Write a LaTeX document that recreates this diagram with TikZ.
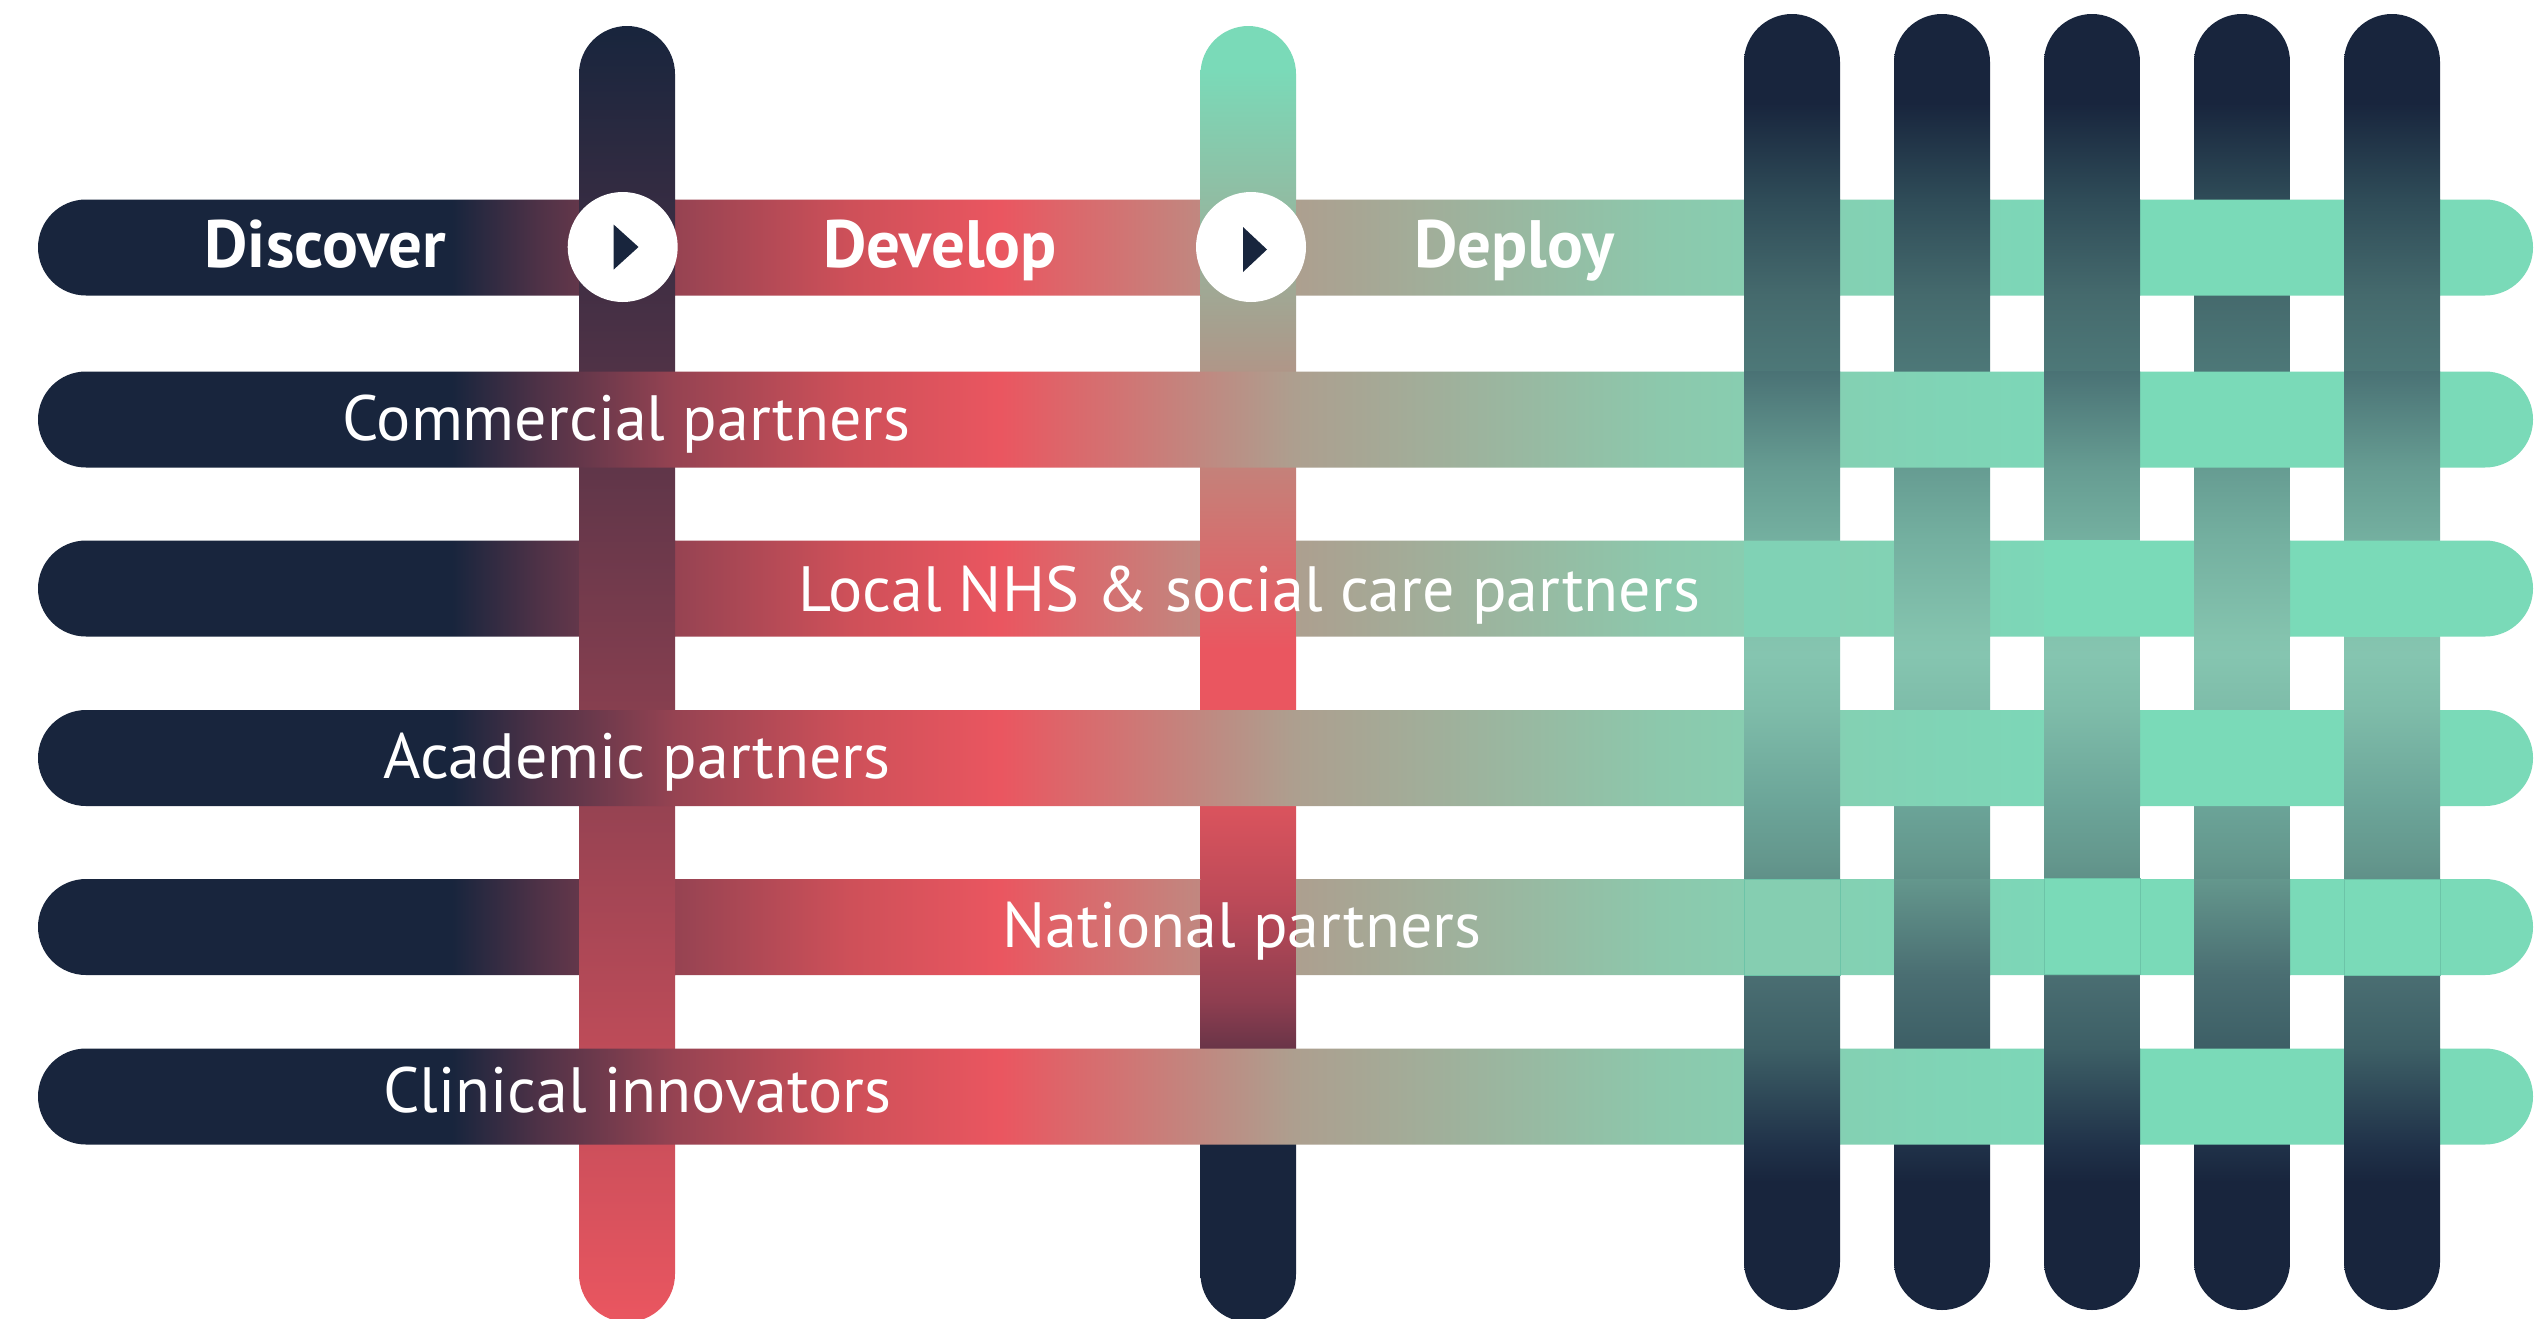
\documentclass[tikz,border=0pt]{standalone}
\usepackage{fontspec}
\setmainfont{PT Sans}
\definecolor{navy}{HTML}{18253D}
\definecolor{redc}{HTML}{EA5660}
\definecolor{greenc}{HTML}{7ADAB8}
\definecolor{midc}{HTML}{85C5B0}
\definecolor{hA}{HTML}{4F3247}
\definecolor{hB}{HTML}{964352}
\definecolor{hC}{HTML}{CE5059}
\definecolor{hE}{HTML}{AD9F8F}
\definecolor{hF}{HTML}{8CC8AC}
\definecolor{hG}{HTML}{88CDB0}
\definecolor{hH}{HTML}{7FD4B6}
\definecolor{vA}{HTML}{A79F8E}
\definecolor{vB}{HTML}{CB7A75}
\definecolor{vC}{HTML}{D9535D}
\definecolor{vD}{HTML}{BC4A58}
\definecolor{vE}{HTML}{8F3E50}
\definecolor{vF}{HTML}{703649}
\definecolor{cA}{HTML}{2F4C58}
\definecolor{cB}{HTML}{456A6D}
\definecolor{cC}{HTML}{4D7878}
\definecolor{cCtop}{HTML}{4A7275}
\definecolor{cD}{HTML}{669C92}
\definecolor{cE}{HTML}{74B0A0}
\definecolor{cF}{HTML}{84C3AE}
\definecolor{cG}{HTML}{7EBCA9}
\definecolor{cH}{HTML}{6BA498}
\definecolor{cI}{HTML}{64978D}
\definecolor{cJ}{HTML}{4A6E72}
\definecolor{cK}{HTML}{3D5F66}
\definecolor{cL}{HTML}{203249}
\definecolor{patchA}{HTML}{85CEB1}
\definecolor{patchB}{HTML}{80D2B5}
\definecolor{patchLine}{HTML}{6CC4A8}
\pgfdeclarehorizontalshading{barshade}{100bp}{color(0bp)=(navy); color(33.30bp)=(navy); color(35.06bp)=(hA); color(37.77bp)=(hB); color(41.27bp)=(hC); color(44.28bp)=(redc); color(50.19bp)=(hE); color(57.51bp)=(hF); color(59.11bp)=(hG); color(63.32bp)=(hH); color(67.32bp)=(greenc); color(100bp)=(greenc)}
\pgfdeclareverticalshading{colAshade}{100bp}{color(0bp)=(redc); color(25bp)=(redc); color(75bp)=(navy); color(100bp)=(navy)}
\pgfdeclareverticalshading{colBshade}{100bp}{color(0bp)=(navy); color(31.87bp)=(navy); color(35.88bp)=(vF); color(37.42bp)=(vE); color(41.28bp)=(vD); color(44.75bp)=(vC); color(47.84bp)=(redc); color(50.93bp)=(redc); color(56.71bp)=(vB); color(63.27bp)=(vA); color(73.30bp)=(greenc); color(100bp)=(greenc)}
\pgfdeclareverticalshading{colCshade}{100bp}{color(0bp)=(navy); color(29.94bp)=(navy); color(31.40bp)=(cL); color(35.11bp)=(cK); color(37.92bp)=(cJ); color(42.36bp)=(cI); color(44.48bp)=(cH); color(48.15bp)=(cG); color(50.27bp)=(midc); color(51.00bp)=(cF); color(54.71bp)=(cE); color(57.48bp)=(cD); color(61.19bp)=(cC); color(64.12bp)=(cB); color(67.82bp)=(cA); color(71.57bp)=(navy); color(100bp)=(navy)}
\tikzset{
  hbarstyle/.style={shading=barshade, rounded corners=48pt},
  colAstyle/.style={shading=colAshade, rounded corners=48pt},
  colBstyle/.style={shading=colBshade, rounded corners=48pt},
  colCstyle/.style={shading=colCshade, rounded corners=48pt},
  plain/.style={text=white, anchor=base, inner sep=0pt, font=\fontsize{64}{64}\selectfont},
  heading/.style={text=white, anchor=base, inner sep=0pt, font=\fontsize{67}{67}\selectfont\bfseries},
  playdisc/.style={circle, fill=white, minimum size=110pt, inner sep=0pt},
  playtip/.style={fill=navy},
  patchone/.style={fill=patchA, draw=patchLine, line width=0.6pt},
  patchtwo/.style={fill=greenc, draw=patchLine, line width=0.6pt},
  patchthree/.style={fill=patchB},
  patchfour/.style={fill=greenc},
  rowone/.style={top color=cA, bottom color=cB},
  rowtwo/.style={top color=cCtop, bottom color=cD},
  rowthree/.style={top color=cE, bottom color=cF},
  rowfour/.style={top color=cG, bottom color=cH},
  rowfive/.style={top color=cI, bottom color=cJ},
  rowsix/.style={top color=cK, bottom color=cL},
}
\newcommand{\mybar}[1]{\path[hbarstyle] (38,#1) rectangle (2533,#1+96);}
\newcommand{\mycolA}{\path[colAstyle] (579,26) rectangle (675,1322);}
\newcommand{\mycolB}{\path[colBstyle] (1200.5,26) rectangle (1296,1322);}
\newcommand{\mycolC}[1]{\path[colCstyle] (#1,14) rectangle (#1+96,1310);}
\newcommand{\overA}[1]{\begin{scope}\clip (579,#1) rectangle (675,#1+96);\mycolA\end{scope}}
\newcommand{\overB}[1]{\begin{scope}\clip (1200.5,#1) rectangle (1296,#1+96);\mycolB\end{scope}}
\newcommand{\cell}[3]{\path[#3] (#1,#2) rectangle (#1+96,#2+96);}
\begin{document}
\begin{tikzpicture}[x=1pt,y=-1pt]
\useasboundingbox (0,0) rectangle (2535,1318);
\clip (0,0) rectangle (2535,1318);
\fill[white] (0,0) rectangle (2535,1318);
% columns
\mycolA
\mycolB
\foreach \cx in {1744,1894,2044,2194,2344} {\mycolC{\cx}}
% bars
\foreach \by in {199.5,371.5,540.5,710,879,1048.5} {\mybar{\by}}
% columns passing over bars
\overA{199.5}\overB{199.5}
\overA{540.5}\overB{540.5}
\overA{879}\overB{879}
\foreach \cx in {1744,1894,2044,2344} {\cell{\cx}{199.5}{rowone}}
\foreach \cx in {1744,2044,2344} {\cell{\cx}{371.5}{rowtwo}}
\foreach \cx in {1894,2194} {\cell{\cx}{540.5}{rowthree}}
\foreach \cx in {1744,2044,2344} {\cell{\cx}{710}{rowfour}}
\foreach \cx in {1894,2194} {\cell{\cx}{879}{rowfive}}
\foreach \cx in {1744,2044,2344} {\cell{\cx}{1048.5}{rowsix}}
% flat cells where a bar passes over a column
\fill[patchthree] (1744,540.5) rectangle (1840,636.5);
\fill[patchfour] (2044,539.5) rectangle (2140,635.5);
\fill[patchfour] (2344,540.5) rectangle (2440,636.5);
\path[patchone] (1744,879.5) rectangle (1840,975);
\path[patchtwo] (2044,878.5) rectangle (2140,974);
\path[patchtwo] (2344,879.5) rectangle (2440,975);
% play buttons
\node[playdisc] (playone) at (622.7,247) {};
\node[playdisc] (playtwo) at (1251,247) {};
\fill[playtip] (613.6,224.5) -- (638.5,247) -- (613.6,269.6) -- cycle;
\fill[playtip] (1243,227) -- (1267,249.5) -- (1243,272) -- cycle;
% labels
\node[heading] (discover) at (325.5,267) {Discover};
\node[heading] (develop) at (940,267) {Develop};
\node[heading] (deploy) at (1514.5,267) {Deploy};
\node[plain] (commercial) at (626.5,440) {Commercial partners};
\node[plain] (local) at (1249.5,611) {Local NHS \& social care partners};
\node[plain] (academic) at (637,778.7) {Academic partners};
\node[plain] (national) at (1242,947) {National partners};
\node[plain] (clinical) at (637.5,1112) {Clinical innovators};
\end{tikzpicture}
\end{document}
